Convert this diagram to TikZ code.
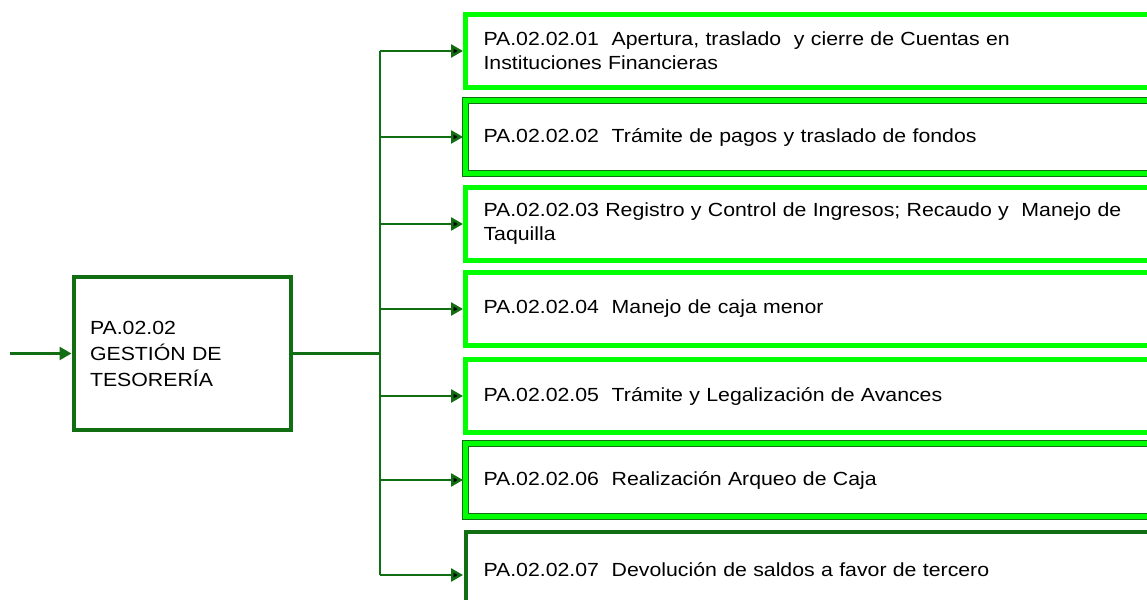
\documentclass[tikz,border=0pt]{standalone}
\usepackage{fontspec}
\setmainfont{Liberation Sans}[FakeStretch=1.12]
\usetikzlibrary{arrows.meta,positioning}
\definecolor{dkgreen}{RGB}{18,110,18}
\definecolor{ltgreen}{RGB}{0,255,0}

\begin{document}
\begin{tikzpicture}[x=1pt, y=1pt,
	proc/.style={draw=dkgreen, line width=4pt, outer sep=0pt, text width=185pt, inner xsep=16pt, minimum height=153pt, align=left, font=\fontsize{19}{26}\selectfont},
	sub/.style={draw=ltgreen, line width=5pt, outer sep=0pt, text width=659pt, inner xsep=18pt, minimum height=73pt, align=left, font=\fontsize{19}{24}\selectfont},
	oldsub/.style={sub, preaction={draw=dkgreen, line width=7pt}},
	lastsub/.style={sub, draw=dkgreen, line width=4pt, minimum height=76pt},
	conn/.style={draw=dkgreen, line width=2.5pt},
	tip/.style={-{Triangle[length=12pt,width=13pt]}, shorten >=2.5pt}
	]
	\useasboundingbox (0,0) rectangle (1147,599);
	\node (g) [proc] at (182.5,245.5) {PA.02.02\\GESTIÓN DE\\TESORERÍA};
	\node (s1) [sub, anchor=west] at (465.5,548) {PA.02.02.01~ Apertura, traslado~ y cierre de Cuentas en\\Instituciones Financieras};
	\node (s2) [oldsub, below=13pt of s1] {PA.02.02.02~ Trámite de pagos y traslado de fondos};
	\node (s3) [sub, below=14pt of s2] {PA.02.02.03 Registro y Control de Ingresos; Recaudo y~ Manejo de\\Taquilla};
	\node (s4) [sub, below=12pt of s3] {PA.02.02.04~ Manejo de caja menor};
	\node (s5) [sub, below=14pt of s4] {PA.02.02.05~ Trámite y Legalización de Avances};
	\node (s6) [oldsub, below=11pt of s5] {PA.02.02.06~ Realización Arqueo de Caja};
	\node (s7) [lastsub, below=15.5pt of s6] {PA.02.02.07~ Devolución de saldos a favor de tercero};
	\coordinate (in) at (10,245.5);
	\coordinate (t) at (380,245.5);
	% entrada y tronco
	\draw[conn, tip] (in) -- (g);
	\draw[conn] (g.east) -- (t);
	\draw[conn] (t |- s1.west) -- ([yshift=-5pt]t |- s7.west);
	\path[conn, every edge/.append style={tip}]
	(t |- s1.west) edge (s1.west)
	(t |- s2.west) edge (s2.west)
	(t |- s3.west) edge (s3.west)
	(t |- s4.west) edge (s4.west)
	(t |- s5.west) edge (s5.west)
	(t |- s6.west) edge (s6.west)
	([yshift=-5pt]t |- s7.west) edge ([yshift=-5pt]s7.west)
	;
\end{tikzpicture}
\end{document}
